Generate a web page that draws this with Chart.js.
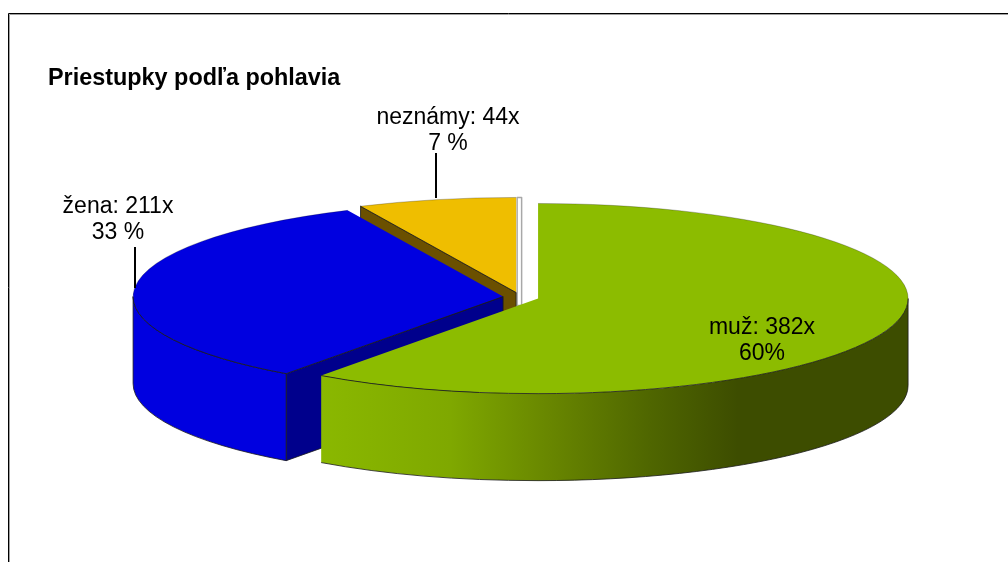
<!DOCTYPE html>
<html lang="sk">
<head>
<meta charset="utf-8">
<title>Priestupky podľa pohlavia</title>
<script src="https://cdn.jsdelivr.net/npm/chart.js@4"></script>
<style>
    html, body { margin: 0; padding: 0; background: #fff; overflow: hidden; }
    canvas { display: block; }
</style>
</head>
<body>
<canvas id="myChart" width="1008" height="562"></canvas>
<script>
const kategorie = ['muž', 'žena', 'neznámy'];
const hodnoty = [382, 211, 44];
const percenta = ['60%', '33 %', '7 %'];

const farby = ['#8cbc00', '#0000e0', '#efbe00'];
const farbyRezu = ['#8cbc00', '#00008c', '#6b5000'];
const vysunutie = [19, 17, 18];   // how far each slice is pulled out
const sklon = 0.257;              // flattening of the circle into an ellipse
const hlbka = 87;                 // height of the pie wall

// where the labels sit, and the leader lines from label to slice
const popisky = [
    { x: 762, y: 328 },
    { x: 118, y: 207, ciara: [135, 247, 288] },
    { x: 448, y: 118, ciara: [436, 153, 198] }
];

function farbaSteny(ctx, arc, i) {
    if (i !== 0) return farby[i];
    // the green wall goes dark towards the right
    const x0 = arc.x + arc.outerRadius * Math.cos(arc.endAngle);
    const g = ctx.createLinearGradient(x0, 0, arc.x + arc.outerRadius, 0);
    g.addColorStop(0, '#8ab800');
    g.addColorStop(0.22, '#7fa800');
    g.addColorStop(0.39, '#688600');
    g.addColorStop(0.56, '#4f6600');
    g.addColorStop(0.71, '#3d4d00');
    g.addColorStop(1, '#3d4d00');
    return g;
}

function drawSlice(ctx, chart, arc, i) {
    const stredY = (chart.chartArea.top + chart.chartArea.bottom) / 2;
    const r = arc.outerRadius;
    const x = arc.x;
    const y = stredY + (arc.y - stredY) * sklon;
    const start = arc.startAngle;
    const end = arc.endAngle;
    const rimX = x + r * Math.cos(start);
    const rimY = y + r * sklon * Math.sin(start);

    ctx.save();
    ctx.lineWidth = 0.8;
    ctx.strokeStyle = '#1a1a1a';
    ctx.lineJoin = 'round';

    // the end face of the slice at twelve o'clock shows as a thin pale strip
    if (Math.abs(Math.cos(end)) < 0.01) {
        ctx.fillStyle = '#fff';
        ctx.strokeStyle = '#a8a8a8';
        ctx.lineWidth = 1.5;
        ctx.fillRect(x, y + r * sklon * Math.sin(end), 5, r * sklon + 13);
        ctx.strokeRect(x + 1, y + r * sklon * Math.sin(end), 4.5, r * sklon + 13);
        ctx.lineWidth = 0.8;
        ctx.strokeStyle = '#1a1a1a';
    }

    // cut face, only seen on slices starting in the left half
    if (Math.cos(start) < -0.01) {
        ctx.beginPath();
        ctx.moveTo(x, y);
        ctx.lineTo(rimX, rimY);
        ctx.lineTo(rimX, rimY + hlbka);
        ctx.lineTo(x, y + hlbka);
        ctx.closePath();
        ctx.fillStyle = farbyRezu[i];
        ctx.fill();
        ctx.stroke();
    }

    // outer wall, front half of the ellipse only
    const a0 = Math.max(start, 0);
    const a1 = Math.min(end, Math.PI);
    if (a1 > a0) {
        ctx.beginPath();
        ctx.ellipse(x, y, r, r * sklon, 0, a0, a1);
        ctx.lineTo(x + r * Math.cos(a1), y + hlbka + r * sklon * Math.sin(a1));
        ctx.ellipse(x, y + hlbka, r, r * sklon, 0, a1, a0, true);
        ctx.closePath();
        ctx.fillStyle = farbaSteny(ctx, arc, i);
        ctx.fill();
        if (i !== 0) {
            ctx.stroke();
        } else {
            // no dark corner on the green wall, only the curves
            ctx.beginPath();
            ctx.ellipse(x, y + hlbka, r, r * sklon, 0, a0, a1);
            ctx.stroke();
            ctx.beginPath();
            ctx.moveTo(x + r, y);
            ctx.lineTo(x + r, y + hlbka);
            ctx.stroke();
        }
    }

    // top face is the Chart.js arc itself, squashed
    ctx.save();
    ctx.translate(0, stredY);
    ctx.scale(1, sklon);
    ctx.translate(0, -stredY);
    arc.draw(ctx);
    ctx.restore();

    // rim of the top face: dark in front, faint at the back
    if (a1 > a0) {
        ctx.beginPath();
        ctx.ellipse(x, y, r, r * sklon, 0, a0, a1);
        ctx.stroke();
    }
    ctx.save();
    ctx.strokeStyle = 'rgba(0, 0, 0, 0.3)';
    const zadne = [[Math.max(start, Math.PI), Math.min(end, 2 * Math.PI)], [start, Math.min(end, 0)]];
    zadne.forEach(([z0, z1]) => {
        if (z1 > z0) {
            ctx.beginPath();
            ctx.ellipse(x, y, r, r * sklon, 0, z0, z1);
            ctx.stroke();
        }
    });
    ctx.restore();

    // edge between the top face and its cut face
    if (Math.cos(start) < -0.01) {
        ctx.beginPath();
        ctx.moveTo(x, y);
        ctx.lineTo(rimX, rimY);
        ctx.stroke();
    }
    ctx.restore();
}

const pie3d = {
    id: 'pie3d',
    beforeDraw(chart) {
        const ctx = chart.ctx;
        ctx.save();
        ctx.strokeStyle = '#a0a0a0';
        ctx.lineWidth = 1;
        ctx.beginPath();
        ctx.moveTo(9.5, 562);
        ctx.lineTo(9.5, 14.5);
        ctx.lineTo(1008, 14.5);
        ctx.stroke();
        ctx.strokeStyle = '#000';
        ctx.beginPath();
        ctx.moveTo(8.5, 562);
        ctx.lineTo(8.5, 13.5);
        ctx.lineTo(1008, 13.5);
        ctx.stroke();
        ctx.restore();
    },
    afterDatasetUpdate(chart) {
        chart.getDatasetMeta(0).data.forEach((arc, i) => {
            const stred = (arc.startAngle + arc.endAngle) / 2;
            arc.x += Math.cos(stred) * vysunutie[i];
            arc.y += Math.sin(stred) * vysunutie[i];
        });
    },
    beforeDatasetDraw(chart) {
        const arcs = chart.getDatasetMeta(0).data;
        // back slices first so the nearer ones cover their walls
        for (let i = arcs.length - 1; i >= 0; i--) {
            drawSlice(chart.ctx, chart, arcs[i], i);
        }
        return false;
    },
    afterDraw(chart) {
        const ctx = chart.ctx;
        ctx.save();
        ctx.fillStyle = '#000';
        ctx.font = '23px "Liberation Sans", Arial, sans-serif';
        ctx.textAlign = 'center';
        ctx.textBaseline = 'middle';
        popisky.forEach((p, i) => {
            ctx.fillText(`${kategorie[i]}: ${hodnoty[i]}x`, p.x, p.y);
            ctx.fillText(percenta[i], p.x, p.y + 26);
            if (p.ciara) {
                ctx.lineWidth = 2;
                ctx.strokeStyle = '#000';
                ctx.beginPath();
                ctx.moveTo(p.ciara[0], p.ciara[1]);
                ctx.lineTo(p.ciara[0], p.ciara[2]);
                ctx.stroke();
            }
        });
        ctx.restore();
    }
};

new Chart(document.getElementById('myChart').getContext('2d'), {
    type: 'pie',
    data: {
        labels: kategorie,
        datasets: [{
            data: hodnoty,
            backgroundColor: farby,
            borderWidth: 0,
            clip: false
        }]
    },
    options: {
        responsive: false,
        animation: false,
        events: [],
        radius: 370,
        layout: { padding: { left: 48, right: 16, top: 0, bottom: 64 } },
        plugins: {
            legend: { display: false },
            tooltip: { enabled: false },
            title: {
                display: true,
                text: 'Priestupky podľa pohlavia',
                align: 'start',
                color: '#000',
                font: { family: '"Liberation Sans", Arial, sans-serif', size: 23.4, weight: 'bold' },
                padding: { top: 65, bottom: 3 }
            }
        }
    },
    plugins: [pie3d]
});
</script>
</body>
</html>
